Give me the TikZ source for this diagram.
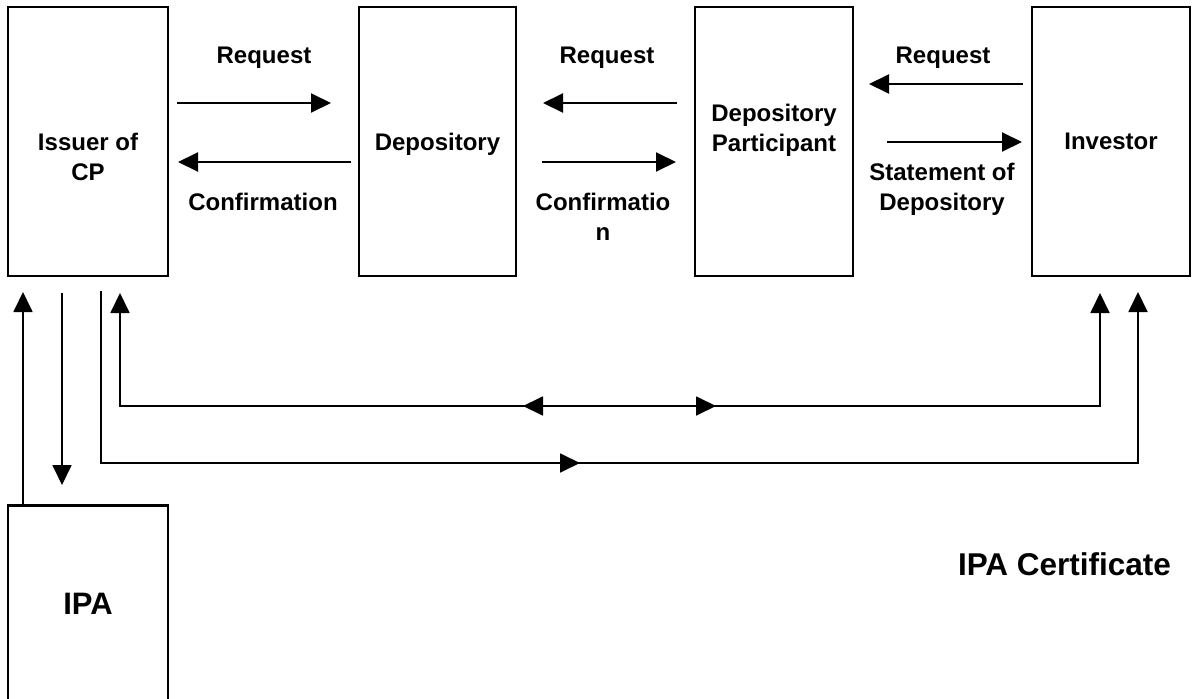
\documentclass[tikz,border=0pt]{standalone}
\usepackage{fontspec}
\setmainfont{Liberation Sans}
\usetikzlibrary{arrows.meta,decorations.markings}
\begin{document}
\begin{tikzpicture}[x=1pt,y=-1pt,
  box/.style={draw, line width=2.5pt, inner sep=0pt},
  lbl/.style={font=\bfseries\fontsize{24}{29.5}\selectfont, align=center, inner sep=0pt, anchor=north},
  big/.style={font=\bfseries\fontsize{31.5}{36}\selectfont, inner sep=0pt, anchor=north},
  tip/.style={-{Triangle[length=20pt,width=19pt]}},
  arr/.style={line width=2pt, tip},
  link/.style={line width=1.8pt},
]
\useasboundingbox (0,0) rectangle (1192,699);
\clip (0,0) rectangle (1192,699);

% boxes
\node[box, minimum width=160pt, minimum height=269pt] (issuer) at (88,141.5) {};
\node[box, minimum width=157pt, minimum height=269pt] (dep) at (437.5,141.5) {};
\node[box, minimum width=158pt, minimum height=269pt] (dp) at (774,141.5) {};
\node[box, minimum width=158pt, minimum height=269pt] (inv) at (1111,141.5) {};
\node[box, minimum width=160pt, minimum height=230pt, anchor=north] (ipa) at (88,504) {};

% box texts
\node[lbl] (tissuer) at (88,133) {Issuer of\\CP};
\node[lbl] (tdep) at (437.5,133) {Depository};
\node[lbl] (tdp) at (774,104) {Depository\\Participant};
\node[lbl] (tinv) at (1111,133) {Investor};
\node[big, font=\bfseries\fontsize{31}{36}\selectfont] (tipa) at (88,593) {IPA};
\node[big] (cert) at (1064.5,552) {IPA Certificate};

% top arrows
\coordinate (a1s) at (177,103);  \coordinate (a1e) at (331,103);
\coordinate (a2s) at (351,162);  \coordinate (a2e) at (178,162);
\coordinate (a3s) at (677,103);  \coordinate (a3e) at (543,103);
\coordinate (a4s) at (542,162);  \coordinate (a4e) at (676,162);
\coordinate (a5s) at (1023,84);  \coordinate (a5e) at (869,84);
\coordinate (a6s) at (887,142);  \coordinate (a6e) at (1022,142);
\draw[arr] (a1s) -- (a1e);
\draw[arr] (a2s) -- (a2e);
\draw[arr] (a3s) -- (a3e);
\draw[arr] (a4s) -- (a4e);
\draw[arr] (a5s) -- (a5e);
\draw[arr] (a6s) -- (a6e);

\node[lbl] (l1) at (264,47) {Request};
\node[lbl] (l2) at (263,193) {Confirmation};
\node[lbl] (l3) at (607,47) {Request};
\node[lbl] (l4) at (603,193) {Confirmatio\\n};
\node[lbl] (l5) at (943,47) {Request};
\node[lbl] (l6) at (942,163) {Statement of\\Depository};

% lower connectors
\coordinate (upipa) at (23,292);
\draw[link, tip] (upipa |- ipa.north) -- (upipa);

\coordinate (dns) at (62,293); \coordinate (dne) at (62,485);
\draw[link, tip] (dns) -- (dne);

\coordinate (ls) at (101,291); \coordinate (lc1) at (101,463);
\coordinate (lc2) at (1138,463); \coordinate (le) at (1138,292);
\draw[link, tip, postaction={decorate, decoration={markings,
    mark=at position 651pt with {\arrow{Triangle[length=20pt,width=19pt]}}}}]
  (ls) -- (lc1) -- (lc2) -- (le);

\coordinate (ms) at (120,293); \coordinate (mc1) at (120,406);
\coordinate (mc2) at (1100,406); \coordinate (me) at (1100,293);
\draw[link, {Triangle[length=20pt,width=19pt]}-{Triangle[length=20pt,width=19pt]},
  postaction={decorate, decoration={markings,
    mark=at position 516pt with {\arrowreversed{Triangle[length=20pt,width=19pt]}},
    mark=at position 709pt with {\arrow{Triangle[length=20pt,width=19pt]}}}}]
  (ms) -- (mc1) -- (mc2) -- (me);
\draw[line width=2.6pt] (523,406) -- (716,406);
\end{tikzpicture}
\end{document}
